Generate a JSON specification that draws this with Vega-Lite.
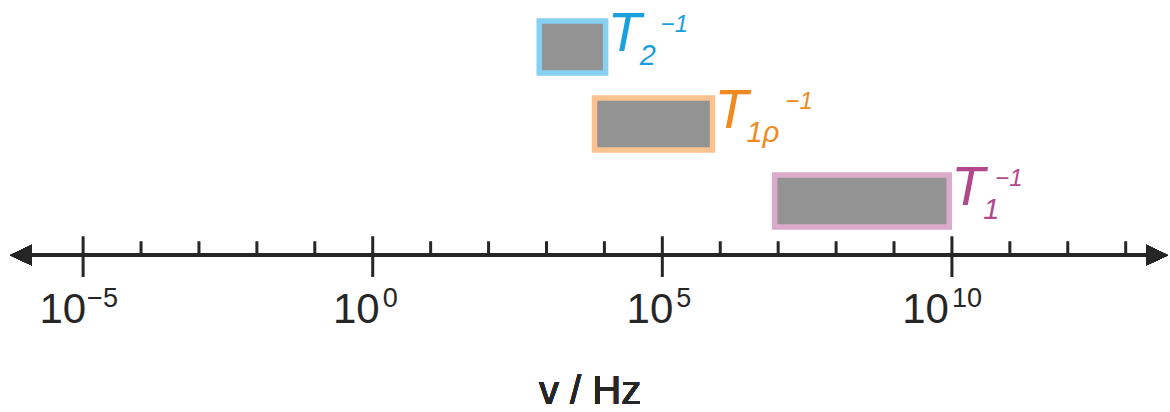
{
  "$schema": "https://vega.github.io/schema/vega-lite/v6.json",
  "width": 1170,
  "height": 412,
  "autosize": {"type": "fit", "contains": "padding"},
  "padding": 0,
  "background": "white",
  "config": {"view": {"stroke": null}, "font": "Liberation Sans", "text": {"font": "Liberation Sans", "fontWeight": "normal"}},
  "datasets": {
    "rates": [
      {"rate": "T2", "lo": 750, "hi": 10500, "sym": "T", "sub": "2", "sup": "−1"},
      {"rate": "T1rho", "lo": 6750, "hi": 736000, "sym": "T", "sub": "1ρ", "sup": "−1"},
      {"rate": "T1", "lo": 8700000, "hi": 9000000000, "sym": "T", "sub": "1", "sup": "−1"}
    ],
    "ticks": [
      {"v": 1e-5, "major": true, "exp": "−5"},
      {"v": 1e-4, "major": false, "exp": ""},
      {"v": 1e-3, "major": false, "exp": ""},
      {"v": 1e-2, "major": false, "exp": ""},
      {"v": 1e-1, "major": false, "exp": ""},
      {"v": 1, "major": true, "exp": "0"},
      {"v": 1e1, "major": false, "exp": ""},
      {"v": 1e2, "major": false, "exp": ""},
      {"v": 1e3, "major": false, "exp": ""},
      {"v": 1e4, "major": false, "exp": ""},
      {"v": 1e5, "major": true, "exp": "5"},
      {"v": 1e6, "major": false, "exp": ""},
      {"v": 1e7, "major": false, "exp": ""},
      {"v": 1e8, "major": false, "exp": ""},
      {"v": 1e9, "major": false, "exp": ""},
      {"v": 1e10, "major": true, "exp": "10"},
      {"v": 1e11, "major": false, "exp": ""},
      {"v": 1e12, "major": false, "exp": ""},
      {"v": 1e13, "major": false, "exp": ""}
    ]
  },
  "layer": [
    {
      "data": {"name": "rates"},
      "layer": [
        {
          "mark": {"type": "rect", "fill": "#939393", "strokeWidth": 5.5},
          "encoding": {
            "x": {"field": "lo", "type": "quantitative", "scale": {"type": "log", "domain": [3.673e-7, 5.82e13], "nice": false}, "axis": null},
            "x2": {"field": "hi"},
            "y": {"field": "rate", "type": "nominal", "scale": {"domain": ["T2", "T1rho", "T1"], "range": [21, 227], "paddingInner": 0.324, "paddingOuter": 0}, "axis": null},
            "stroke": {"field": "rate", "type": "nominal", "scale": {"domain": ["T2", "T1rho", "T1"], "range": ["#86d0f1", "#f9c38f", "#dcaacb"]}, "legend": null}
          }
        },
        {
          "mark": {"type": "text", "font": "Liberation Sans", "align": "left", "baseline": "alphabetic", "fontSize": 55, "fontStyle": "italic", "dx": 2, "dy": 4},
          "encoding": {
            "x": {"field": "hi", "type": "quantitative", "scale": {"type": "log", "domain": [3.673e-7, 5.82e13], "nice": false}, "axis": null},
            "y": {"field": "rate", "type": "nominal", "axis": null},
            "text": {"field": "sym"},
            "fill": {"field": "rate", "type": "nominal", "scale": {"domain": ["T2", "T1rho", "T1"], "range": ["#1aa0dc", "#f08a20", "#b0488b"]}, "legend": null}
          }
        },
        {
          "mark": {"type": "text", "font": "Liberation Sans", "align": "left", "baseline": "alphabetic", "fontSize": 29, "fontStyle": "italic", "dx": 34, "dy": 18},
          "encoding": {
            "x": {"field": "hi", "type": "quantitative", "scale": {"type": "log", "domain": [3.673e-7, 5.82e13], "nice": false}, "axis": null},
            "y": {"field": "rate", "type": "nominal", "axis": null},
            "text": {"field": "sub"},
            "fill": {"field": "rate", "type": "nominal", "legend": null}
          }
        },
        {
          "transform": [{"filter": {"field": "rate", "equal": "T2"}}],
          "mark": {"type": "text", "font": "Liberation Sans", "align": "left", "baseline": "alphabetic", "fontSize": 24, "fontStyle": "italic", "dx": 55, "dy": -15},
          "encoding": {
            "x": {"field": "hi", "type": "quantitative", "scale": {"type": "log", "domain": [3.673e-7, 5.82e13], "nice": false}, "axis": null},
            "y": {"field": "rate", "type": "nominal", "axis": null},
            "text": {"field": "sup"},
            "fill": {"field": "rate", "type": "nominal", "legend": null}
          }
        },
        {
          "transform": [{"filter": {"field": "rate", "equal": "T1rho"}}],
          "mark": {"type": "text", "font": "Liberation Sans", "align": "left", "baseline": "alphabetic", "fontSize": 24, "fontStyle": "italic", "dx": 73, "dy": -15},
          "encoding": {
            "x": {"field": "hi", "type": "quantitative", "scale": {"type": "log", "domain": [3.673e-7, 5.82e13], "nice": false}, "axis": null},
            "y": {"field": "rate", "type": "nominal", "axis": null},
            "text": {"field": "sup"},
            "fill": {"field": "rate", "type": "nominal", "legend": null}
          }
        },
        {
          "transform": [{"filter": {"field": "rate", "equal": "T1"}}],
          "mark": {"type": "text", "font": "Liberation Sans", "align": "left", "baseline": "alphabetic", "fontSize": 24, "fontStyle": "italic", "dx": 46, "dy": -15},
          "encoding": {
            "x": {"field": "hi", "type": "quantitative", "scale": {"type": "log", "domain": [3.673e-7, 5.82e13], "nice": false}, "axis": null},
            "y": {"field": "rate", "type": "nominal", "axis": null},
            "text": {"field": "sup"},
            "fill": {"field": "rate", "type": "nominal", "legend": null}
          }
        }
      ]
    },
    {
      "data": {"name": "ticks"},
      "layer": [
        {
          "mark": {"type": "rule", "stroke": "#262626", "strokeWidth": 3.5},
          "encoding": {
            "x": {"datum": 1e-6, "type": "quantitative", "scale": {"type": "log", "domain": [3.673e-7, 5.82e13], "nice": false}, "axis": null},
            "x2": {"datum": 3e13},
            "y": {"datum": 257, "type": "quantitative", "scale": {"domain": [412, 0], "nice": false, "zero": false}, "axis": null}
          }
        },
        {
          "mark": {"type": "point", "shape": "M-1,0L1,-0.95L1,0.95Z", "size": 484, "filled": true, "fill": "#262626", "stroke": null, "opacity": 1},
          "encoding": {
            "x": {"datum": 8.47e-7, "type": "quantitative", "scale": {"type": "log", "domain": [3.673e-7, 5.82e13], "nice": false}, "axis": null},
            "y": {"datum": 257, "type": "quantitative", "axis": null}
          }
        },
        {
          "mark": {"type": "point", "shape": "M1,0L-1,-0.95L-1,0.95Z", "size": 484, "filled": true, "fill": "#262626", "stroke": null, "opacity": 1},
          "encoding": {
            "x": {"datum": 3.476e13, "type": "quantitative", "scale": {"type": "log", "domain": [3.673e-7, 5.82e13], "nice": false}, "axis": null},
            "y": {"datum": 257, "type": "quantitative", "axis": null}
          }
        },
        {
          "transform": [{"filter": "datum.major"}],
          "mark": {"type": "rule", "stroke": "#262626", "strokeWidth": 3},
          "encoding": {
            "x": {"field": "v", "type": "quantitative", "scale": {"type": "log", "domain": [3.673e-7, 5.82e13], "nice": false}, "axis": null},
            "y": {"datum": 238, "type": "quantitative", "axis": null},
            "y2": {"datum": 279}
          }
        },
        {
          "transform": [{"filter": "!datum.major"}],
          "mark": {"type": "rule", "stroke": "#262626", "strokeWidth": 3},
          "encoding": {
            "x": {"field": "v", "type": "quantitative", "scale": {"type": "log", "domain": [3.673e-7, 5.82e13], "nice": false}, "axis": null},
            "y": {"datum": 243, "type": "quantitative", "axis": null},
            "y2": {"datum": 257}
          }
        },
        {
          "transform": [{"filter": "datum.exp === '−5'"}],
          "layer": [
            {
              "mark": {"type": "text", "font": "Liberation Sans", "text": "10", "align": "right", "baseline": "alphabetic", "fontSize": 42, "fill": "#262626", "dx": 3},
              "encoding": {
                "x": {"field": "v", "type": "quantitative", "scale": {"type": "log", "domain": [3.673e-7, 5.82e13], "nice": false}, "axis": null},
                "y": {"datum": 325, "type": "quantitative", "axis": null}
              }
            },
            {
              "mark": {"type": "text", "font": "Liberation Sans", "align": "left", "baseline": "alphabetic", "fontSize": 27, "fill": "#262626", "dx": 4},
              "encoding": {
                "x": {"field": "v", "type": "quantitative", "scale": {"type": "log", "domain": [3.673e-7, 5.82e13], "nice": false}, "axis": null},
                "y": {"datum": 309, "type": "quantitative", "axis": null},
                "text": {"field": "exp"}
              }
            }
          ]
        },
        {
          "transform": [{"filter": "datum.exp === '0'"}],
          "layer": [
            {
              "mark": {"type": "text", "font": "Liberation Sans", "text": "10", "align": "right", "baseline": "alphabetic", "fontSize": 42, "fill": "#262626", "dx": 7},
              "encoding": {
                "x": {"field": "v", "type": "quantitative", "scale": {"type": "log", "domain": [3.673e-7, 5.82e13], "nice": false}, "axis": null},
                "y": {"datum": 325, "type": "quantitative", "axis": null}
              }
            },
            {
              "mark": {"type": "text", "font": "Liberation Sans", "align": "left", "baseline": "alphabetic", "fontSize": 27, "fill": "#262626", "dx": 10},
              "encoding": {
                "x": {"field": "v", "type": "quantitative", "scale": {"type": "log", "domain": [3.673e-7, 5.82e13], "nice": false}, "axis": null},
                "y": {"datum": 309, "type": "quantitative", "axis": null},
                "text": {"field": "exp"}
              }
            }
          ]
        },
        {
          "transform": [{"filter": "datum.exp === '5'"}],
          "layer": [
            {
              "mark": {"type": "text", "font": "Liberation Sans", "text": "10", "align": "right", "baseline": "alphabetic", "fontSize": 42, "fill": "#262626", "dx": 11},
              "encoding": {
                "x": {"field": "v", "type": "quantitative", "scale": {"type": "log", "domain": [3.673e-7, 5.82e13], "nice": false}, "axis": null},
                "y": {"datum": 325, "type": "quantitative", "axis": null}
              }
            },
            {
              "mark": {"type": "text", "font": "Liberation Sans", "align": "left", "baseline": "alphabetic", "fontSize": 27, "fill": "#262626", "dx": 14},
              "encoding": {
                "x": {"field": "v", "type": "quantitative", "scale": {"type": "log", "domain": [3.673e-7, 5.82e13], "nice": false}, "axis": null},
                "y": {"datum": 309, "type": "quantitative", "axis": null},
                "text": {"field": "exp"}
              }
            }
          ]
        },
        {
          "transform": [{"filter": "datum.exp === '10'"}],
          "layer": [
            {
              "mark": {"type": "text", "font": "Liberation Sans", "text": "10", "align": "right", "baseline": "alphabetic", "fontSize": 42, "fill": "#262626", "dx": -3},
              "encoding": {
                "x": {"field": "v", "type": "quantitative", "scale": {"type": "log", "domain": [3.673e-7, 5.82e13], "nice": false}, "axis": null},
                "y": {"datum": 325, "type": "quantitative", "axis": null}
              }
            },
            {
              "mark": {"type": "text", "font": "Liberation Sans", "align": "left", "baseline": "alphabetic", "fontSize": 27, "fill": "#262626", "dx": 0},
              "encoding": {
                "x": {"field": "v", "type": "quantitative", "scale": {"type": "log", "domain": [3.673e-7, 5.82e13], "nice": false}, "axis": null},
                "y": {"datum": 309, "type": "quantitative", "axis": null},
                "text": {"field": "exp"}
              }
            }
          ]
        },
        {
          "mark": {"type": "text", "font": "Liberation Sans", "fontWeight": "normal", "text": "v / Hz", "align": "center", "baseline": "alphabetic", "fontSize": 40, "fill": "#262626"},
          "encoding": {
            "x": {"datum": 5650, "type": "quantitative", "scale": {"type": "log", "domain": [3.673e-7, 5.82e13], "nice": false}, "axis": null},
            "y": {"datum": 407, "type": "quantitative", "axis": null}
          }
        }
      ]
    }
  ],
  "resolve": {"scale": {"y": "independent"}}
}
